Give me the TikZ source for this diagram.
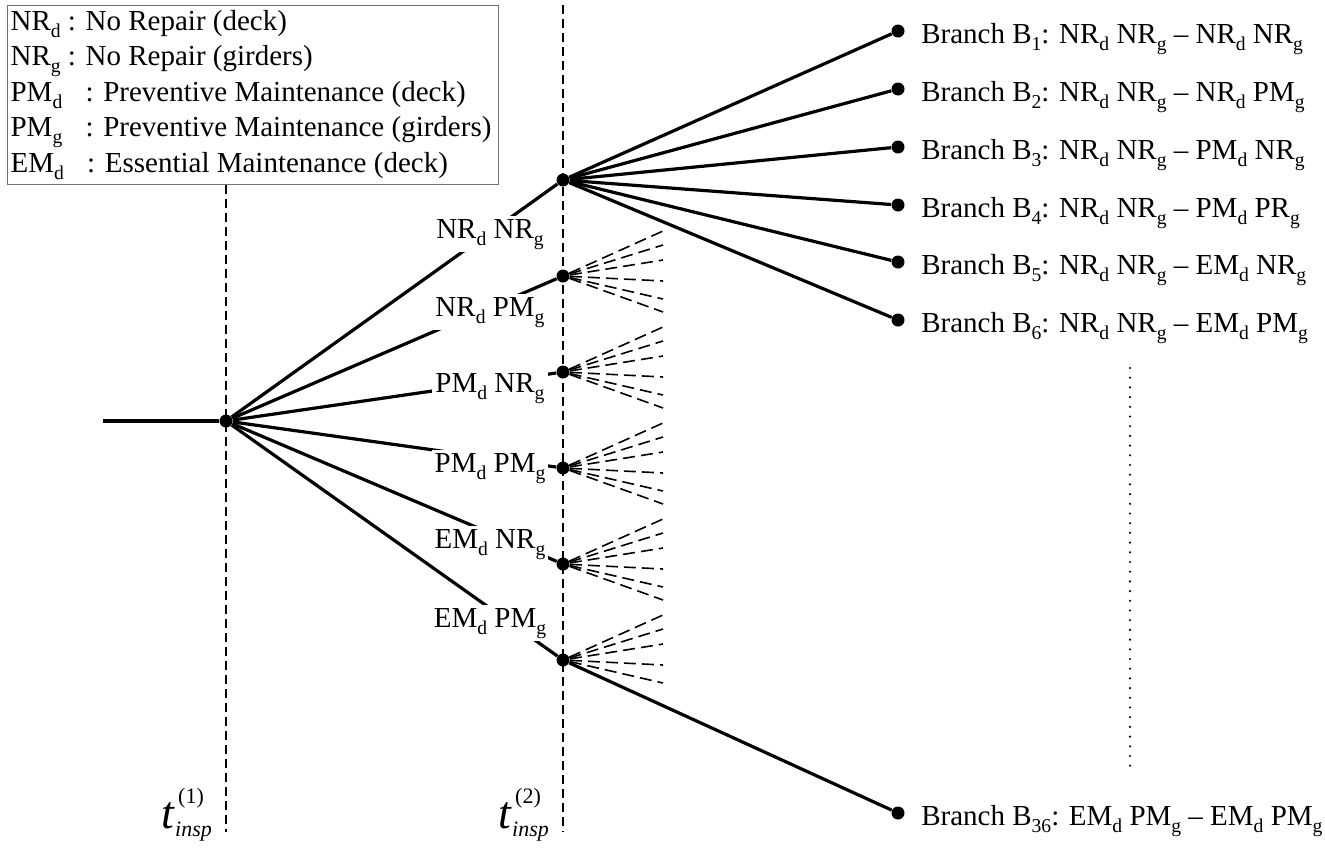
\documentclass[tikz,border=0pt]{standalone}
\usepackage{fontspec}
\setmainfont{Liberation Serif}
\newcommand{\sbs}[1]{\raisebox{-3.5pt}{\fontsize{9.8}{10}\selectfont#1}}
\tikzset{
  tree/.style={line width=1.6pt},
  fan/.style={line width=0.8pt,dash pattern=on 6pt off 3pt},
  time/.style={line width=0.8pt,dash pattern=on 4.5pt off 2.5pt},
  dot/.style={circle,fill,inner sep=0pt,minimum size=6.5pt},
  act/.style={fill=white,inner sep=1.5pt,anchor=base},
  leaf/.style={anchor=base west,inner sep=0pt,xshift=8pt,yshift=-6pt},
  key/.style={draw=black!55,line width=0.6pt,anchor=north west,align=flush left,
    text width=242.5pt,inner xsep=1.5pt,inner ysep=2.3pt,
    font=\fontsize{14.5}{17.75}\selectfont},
  tlabel/.style={font=\fontsize{23}{23}\selectfont\itshape,inner sep=0pt,anchor=base},
  tup/.style={font=\fontsize{11}{11}\selectfont,inner sep=0pt,anchor=base west},
  tdown/.style={font=\fontsize{11}{11}\selectfont\itshape,inner sep=0pt,anchor=base west}
}
\begin{document}
\begin{tikzpicture}[x=0.5pt,y=-0.5pt,line cap=butt,font=\fontsize{14.5}{17}\selectfont]
  \useasboundingbox (0,0) rectangle (1325,847);
  \node[key] (legend) at (7,5) {NR\sbs{d} : No Repair (deck)\\
    NR\sbs{g} : No Repair (girders)\\
    PM\sbs{d}\hspace{8pt} : Preventive Maintenance (deck)\\
    PM\sbs{g}\hspace{8pt} : Preventive Maintenance (girders)\\
    EM\sbs{d}\hspace{8pt} : Essential Maintenance (deck)};
  \coordinate (in) at (103,421);
  \coordinate (t1end) at (226,832);
  \coordinate (t2top) at (563,5);
  \coordinate (t2end) at (563,832);
  \node[dot] (r) at (226,421) {};
  \draw[time] (r |- legend.south) -- (t1end);
  \draw[time] (t2top) -- (t2end);
  \draw[line width=1.9pt] (in) -- (r);
  \foreach \y [count=\i] in {180,276,372,468,564,660}
    \node[dot] (s\i) at (563,\y) {};
  \foreach \i in {1,...,6}
    \draw[tree] (r) -- (s\i);
  \node[act] (a1) at (490,238) {NR\sbs{d} NR\sbs{g}};
  \node[act] (a2) at (490,316) {NR\sbs{d} PM\sbs{g}};
  \node[act] (a3) at (490,392) {PM\sbs{d} NR\sbs{g}};
  \node[act] (a4) at (490,472) {PM\sbs{d} PM\sbs{g}};
  \node[act] (a5) at (490,548) {EM\sbs{d} NR\sbs{g}};
  \node[act] (a6) at (490,627) {EM\sbs{d} PM\sbs{g}};
  \foreach \i in {2,...,5}
    \foreach \d in {-45,-31,-16,5,23,36}
      \draw[fan] (s\i) -- ++(100,\d);
  \foreach \d in {-45,-31,-16,5,23}
    \draw[fan] (s6) -- ++(100,\d);
  \foreach \y [count=\i] in {31,89,147,205,262,320}
  {
    \node[dot] (b\i) at (898,\y) {};
    \draw[tree] (s1) -- (b\i);
  }
  \node[leaf] (l1) at (b1.east) {Branch B\sbs{1}: NR\sbs{d} NR\sbs{g} -- NR\sbs{d} NR\sbs{g}};
  \node[leaf] (l2) at (b2.east) {Branch B\sbs{2}: NR\sbs{d} NR\sbs{g} -- NR\sbs{d} PM\sbs{g}};
  \node[leaf] (l3) at (b3.east) {Branch B\sbs{3}: NR\sbs{d} NR\sbs{g} -- PM\sbs{d} NR\sbs{g}};
  \node[leaf] (l4) at (b4.east) {Branch B\sbs{4}: NR\sbs{d} NR\sbs{g} -- PM\sbs{d} PR\sbs{g}};
  \node[leaf] (l5) at (b5.east) {Branch B\sbs{5}: NR\sbs{d} NR\sbs{g} -- EM\sbs{d} NR\sbs{g}};
  \node[leaf] (l6) at (b6.east) {Branch B\sbs{6}: NR\sbs{d} NR\sbs{g} -- EM\sbs{d} PM\sbs{g}};
  \node[dot] (b36) at (898,813) {};
  \draw[tree] (s6) -- (b36);
  \node[leaf] (l36) at (b36.east) {Branch B\sbs{36}: EM\sbs{d} PM\sbs{g} -- EM\sbs{d} PM\sbs{g}};
  \coordinate (vtop) at (1130,368);
  \coordinate (vbot) at (1130,768);
  \draw[line width=1.2pt,line cap=round,dash pattern=on 0pt off 4.85pt] (vtop) -- (vbot);
  \node[tlabel] (t1) at (168,828) {t};
  \node[tup] (t1up) at ([xshift=1.5pt,yshift=12.5pt]t1.base east) {(1)};
  \node[tdown] (t1dn) at ([xshift=0pt,yshift=-4pt]t1.base east) {insp};
  \node[tlabel] (t2) at (505,828) {t};
  \node[tup] (t2up) at ([xshift=1.5pt,yshift=12.5pt]t2.base east) {(2)};
  \node[tdown] (t2dn) at ([xshift=0pt,yshift=-4pt]t2.base east) {insp};
\end{tikzpicture}
\end{document}
